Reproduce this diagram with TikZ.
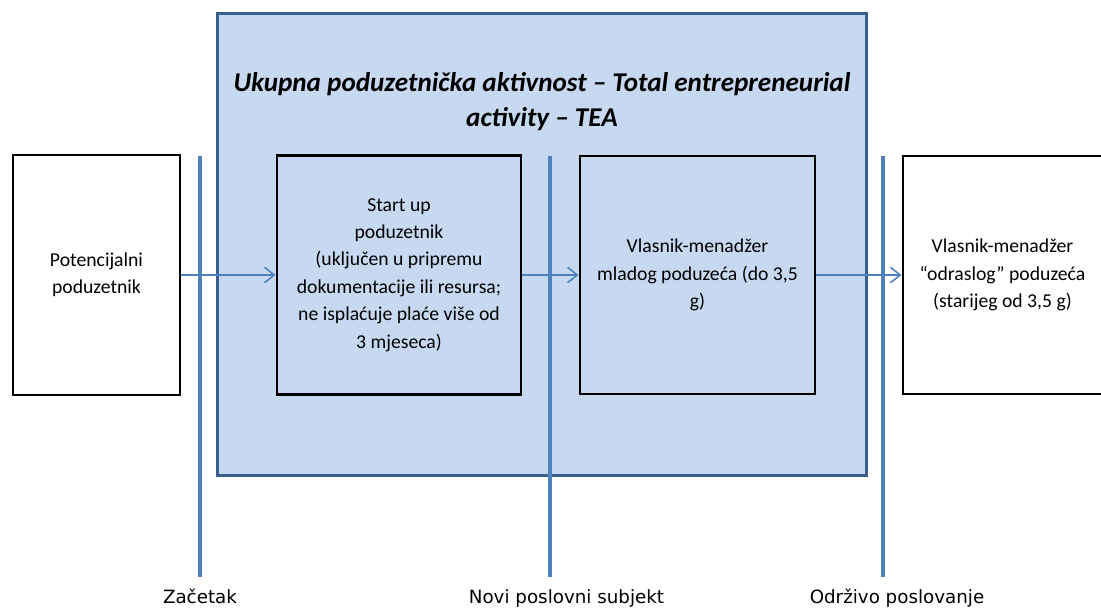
\documentclass[tikz,border=0pt]{standalone}
\usepackage{fontspec}
\setmainfont{Carlito}
\newfontfamily\labelfont{DejaVu Sans}
\usetikzlibrary{arrows.meta}
\definecolor{teafill}{HTML}{C6D9F1}
\definecolor{teaedge}{HTML}{3A5F8E}
\definecolor{lineblue}{HTML}{4F81BD}

\begin{document}
\begin{tikzpicture}[x=0.025cm,y=-0.025cm,
    >={Straight Barb[length=7pt,width=11pt]},
    box/.style={draw=black,line width=2pt,align=center,inner sep=0pt,font=\fontsize{14}{19.5}\selectfont},
    stage/.style={draw=lineblue,line width=2.6pt},
    flow/.style={->,draw=lineblue,line width=1.1pt},
    milestone/.style={font=\labelfont\fontsize{13}{16}\selectfont,anchor=base}]
     \useasboundingbox (0,0) rectangle (1101,607);
     \node[draw=teaedge,fill=teafill,line width=2.2pt,minimum width=16.2cm,minimum height=11.525cm] (tea) at (542,244.5) {};
     \node[align=center,font=\fontsize{19.3}{25}\selectfont\bfseries\itshape] (title) at (542,102)
          {Ukupna poduzetnička aktivnost – Total entrepreneurial\\activity – TEA};
     \node[box,fill=white,minimum width=4.175cm,minimum height=6cm] (potential) at (96.5,275)
          {Potencijalni\\poduzetnik};
     \node[box,minimum width=6.1cm,minimum height=5.975cm] (startup) at (399,275)
          {Start up\\poduzetnik\\(uključen u pripremu\\dokumentacije ili resursa;\\ne isplaćuje plaće više od\\3 mjeseca)};
     \node[box,minimum width=5.875cm,minimum height=5.95cm] (young) at (697.5,275)
          {Vlasnik-menadžer\\mladog poduzeća (do 3,5\\g)};
     \node[box,fill=white,minimum width=4.975cm,minimum height=5.95cm] (mature) at (1002.5,275)
          {Vlasnik-menadžer\\“odraslog” poduzeća\\(starijeg od 3,5 g)};
     \coordinate (s1top) at (200,156);
     \coordinate (s1bot) at (200,577);
     \coordinate (s2top) at (550,156);
     \coordinate (s2bot) at (550,577);
     \coordinate (s3top) at (883,156);
     \coordinate (s3bot) at (883,577);
     \draw[stage] (s1top) -- (s1bot);
     \draw[stage] (s2top) -- (s2bot);
     \draw[stage] (s3top) -- (s3bot);
     \draw[flow] (potential.east) -- (startup.west);
     \draw[flow] (startup.east) -- (young.west);
     \draw[flow] (young.east) -- (mature.west);
     \node[milestone] (start) at (200,603) {Začetak};
     \node[milestone] (newfirm) at (566.5,603) {Novi poslovni subjekt};
     \node[milestone] (sustain) at (897,603) {Održivo poslovanje};
    \end{tikzpicture}
\end{document}
